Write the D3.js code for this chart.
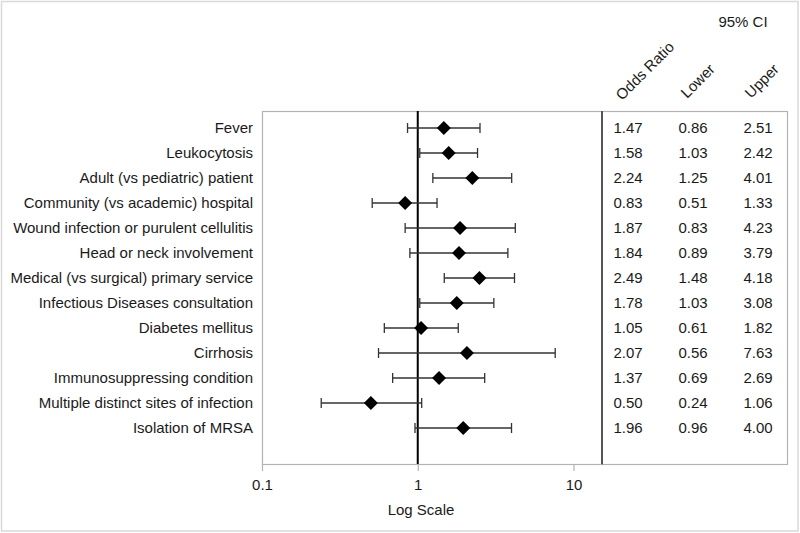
<!DOCTYPE html>
<html>
<head>
<meta charset="utf-8">
<script src="https://cdn.jsdelivr.net/npm/d3@7"></script>
<style>
  html, body { margin: 0; padding: 0; background: #fff; }
  svg { display: block; }
  text { font-family: "Liberation Sans", Arial, sans-serif; fill: #1a1a1a; }
</style>
</head>
<body>
<svg id="chart" width="800" height="533"></svg>
<script>
const categories = [
  "Fever",
  "Leukocytosis",
  "Adult (vs pediatric) patient",
  "Community (vs academic) hospital",
  "Wound infection or purulent cellulitis",
  "Head or neck involvement",
  "Medical (vs surgical) primary service",
  "Infectious Diseases consultation",
  "Diabetes mellitus",
  "Cirrhosis",
  "Immunosuppressing condition",
  "Multiple distinct sites of infection",
  "Isolation of MRSA"
];
const oddsRatio = [1.47, 1.58, 2.24, 0.83, 1.87, 1.84, 2.49, 1.78, 1.05, 2.07, 1.37, 0.50, 1.96];
const lowerCI   = [0.86, 1.03, 1.25, 0.51, 0.83, 0.89, 1.48, 1.03, 0.61, 0.56, 0.69, 0.24, 0.96];
const upperCI   = [2.51, 2.42, 4.01, 1.33, 4.23, 3.79, 4.18, 3.08, 1.82, 7.63, 2.69, 1.06, 4.00];
const tickValues = [0.1, 1, 10];
const tableHeaders = ["Odds Ratio", "Lower", "Upper"];

const svg = d3.select("#chart");
const FS = 15;

// layout
const plotLeft = 262, plotRight = 602, plotTop = 111, plotBottom = 464;
const tableRight = 787;

// outer frame
svg.append("rect").attr("x", 1.5).attr("y", 1.5).attr("width", 796.5).attr("height", 529.5)
  .attr("fill", "none").attr("stroke", "#d9d9d9").attr("stroke-width", 1.5);

const x = d3.scaleLog().domain([0.1, 10]).range([plotLeft, 573.5]);
const y = d3.scalePoint().domain(categories).range([128, 428]);

// plot box (grey)
svg.append("rect").attr("x", plotLeft + 0.5).attr("y", plotTop + 0.5)
  .attr("width", tableRight - plotLeft).attr("height", plotBottom - plotTop)
  .attr("fill", "none").attr("stroke", "#b3b3b3").attr("stroke-width", 1.2);

// divider between plot and table
svg.append("line").attr("x1", plotRight).attr("x2", plotRight)
  .attr("y1", plotTop).attr("y2", plotBottom + 0.5)
  .attr("stroke", "#555").attr("stroke-width", 2);

// x axis
const axis = d3.axisBottom(x).tickValues(tickValues).tickFormat(d3.format("")).tickSize(7).tickPadding(8);
const gx = svg.append("g").attr("transform", `translate(0,${plotBottom})`).call(axis);
gx.select(".domain").attr("stroke", "#b3b3b3").attr("stroke-width", 1.2)
  .attr("d", `M${plotLeft},0.5H${plotRight}`);
gx.selectAll(".tick line").attr("stroke", "#b3b3b3").attr("stroke-width", 1.2);
gx.selectAll(".tick text").attr("font-size", FS).attr("fill", "#1a1a1a")
  .style("font-family", "'Liberation Sans', Arial, sans-serif");

svg.append("text").attr("x", 421).attr("y", 515).attr("text-anchor", "middle")
  .attr("font-size", FS).text("Log Scale");

// reference line at 1
svg.append("line").attr("x1", x(1)).attr("x2", x(1))
  .attr("y1", plotTop).attr("y2", plotBottom)
  .attr("stroke", "#000").attr("stroke-width", 2);

// category labels
svg.append("g").selectAll("text").data(categories).join("text")
  .attr("x", 253).attr("y", d => y(d)).attr("dy", "0.35em")
  .attr("text-anchor", "end").attr("font-size", FS).text(d => d);

// error bars
const rows = categories.map((c, i) => ({ c, or: oddsRatio[i], lo: lowerCI[i], hi: upperCI[i] }));
const gBars = svg.append("g").attr("stroke", "#333").attr("stroke-width", 1.3);
rows.forEach(r => {
  const yy = y(r.c);
  gBars.append("line").attr("x1", x(r.lo)).attr("x2", x(r.hi)).attr("y1", yy).attr("y2", yy);
  gBars.append("line").attr("x1", x(r.lo)).attr("x2", x(r.lo)).attr("y1", yy - 5).attr("y2", yy + 5);
  gBars.append("line").attr("x1", x(r.hi)).attr("x2", x(r.hi)).attr("y1", yy - 5).attr("y2", yy + 5);
});

// diamonds
svg.append("g").selectAll("path").data(rows).join("path")
  .attr("transform", d => `translate(${x(d.or)},${y(d.c)})`)
  .attr("d", "M0,-7L7,0L0,7L-7,0Z").attr("fill", "#000");

// table
const colX = [628, 693, 758];
const cols = [oddsRatio, lowerCI, upperCI];
cols.forEach((vals, ci) => {
  svg.append("g").selectAll("text").data(vals).join("text")
    .attr("x", colX[ci]).attr("y", (d, i) => y(categories[i])).attr("dy", "0.35em")
    .attr("text-anchor", "middle").attr("font-size", FS).text(d => d.toFixed(2));
});

// headers rotated
const headerStart = [[622, 101], [687, 99], [751, 99]];
tableHeaders.forEach((h, i) => {
  svg.append("text").attr("transform", `translate(${headerStart[i][0]},${headerStart[i][1]}) rotate(-45)`)
    .attr("font-size", FS).text(h);
});
svg.append("text").attr("x", 743).attr("y", 27).attr("text-anchor", "middle")
  .attr("font-size", FS).text("95% CI");
</script>
</body>
</html>
